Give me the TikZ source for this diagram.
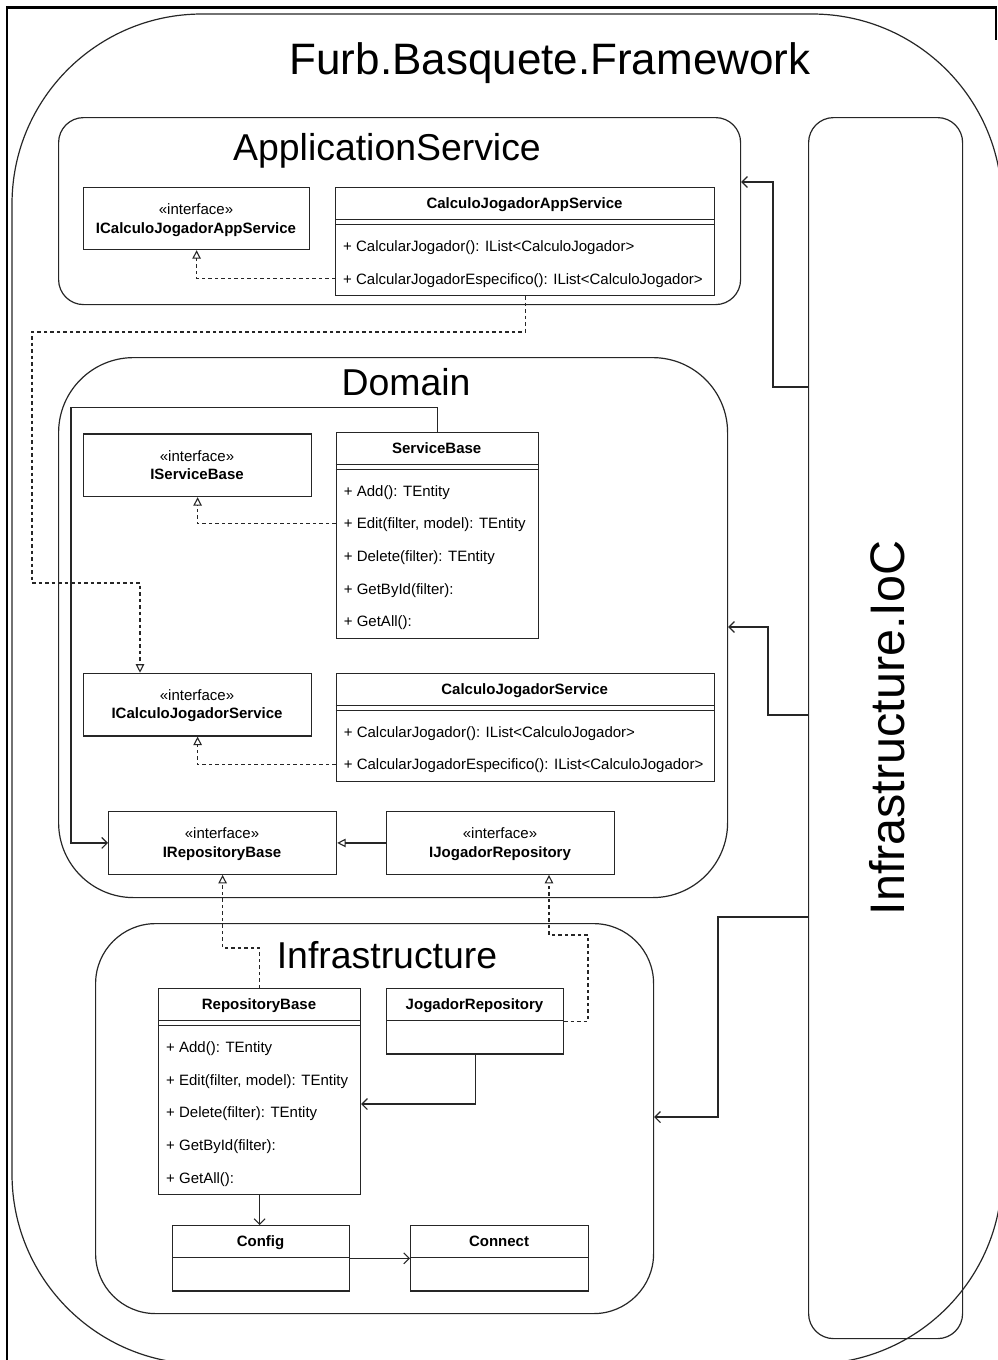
\documentclass[tikz,border=0pt]{standalone}
\usepackage{fontspec}
\setmainfont{Liberation Sans}
\usetikzlibrary{arrows.meta,calc}
\newcommand\sepline[2]{\draw[ln] ($(#1.north west)+(0,#2)$) -- ($(#1.north east)+(0,#2)$);}
\begin{document}
\begin{tikzpicture}[x=1pt,y=-1pt,
  ln/.style={line width=1.2pt, draw=black!85},
  box/.style={ln, rectangle, inner sep=0pt, anchor=north west, fill=white},
  cont/.style={ln, rectangle, rounded corners=#1, inner sep=0pt, anchor=north west},
  txt/.style={inner sep=0pt, text height=10.74pt, text depth=0pt, font=\fontsize{15}{18}\selectfont},
  bld/.style={txt, font=\fontsize{15}{18}\selectfont\bfseries},
  meth/.style={txt, anchor=west},
  ttl/.style={inner sep=0pt, text depth=0pt, text height=#1*0.716pt, font=\fontsize{#1}{#1}\selectfont},
  conn/.style={line width=1.1pt, draw=black!85},
  dep/.style={conn, dash pattern=on 3.5pt off 3pt},
  real/.style={dep, -{Triangle[open, length=8.5pt, width=8.5pt]}},
  gen/.style={conn, -{Triangle[open, length=8.5pt, width=8.5pt]}},
  arr/.style={conn, -{Straight Barb[length=5.5pt, width=11pt]}}]
\useasboundingbox (0,0) rectangle (998,1360);
% page frame
\draw[line width=2.6pt] (7,1362) -- (7,7.5) -- (996,7.5) -- (996,40);
% outer container
\draw[ln, rounded corners=190pt] (12,14) rectangle (1002,1364);
\node[ttl=44, anchor=center] (fw) at (550,58.5) {Furb.Basquete.Framework};
% containers
\node[cont=25pt, minimum width=682pt, minimum height=187pt] (app) at (58,117) {};
\node[ttl=37.4] (appT) at (387,147.6) {ApplicationService};
\node[cont=75pt, minimum width=669pt, minimum height=540pt] (dom) at (58,357) {};
\node[ttl=37.4] (domT) at (406,382.6) {Domain};
\node[cont=60pt, minimum width=558pt, minimum height=390pt] (inf) at (95,923) {};
\node[ttl=37.4] (infT) at (387,954.6) {Infrastructure};
\node[cont=25pt, minimum width=154pt, minimum height=1221pt] (ioc) at (808,117) {};
\node[ttl=48.5, rotate=90] (iocT) at (887.6,728) {Infrastructure.IoC};
% ApplicationService
\node[box, minimum width=226pt, minimum height=62pt] (ias) at (83,187) {};
\node[txt] (iasS) at (196,209.4) {«interface»};
\node[bld] (iasN) at (196,227.7) {ICalculoJogadorAppService};
\node[box, minimum width=379pt, minimum height=108pt] (cjas) at (335,187) {};
\node[bld] (cjasT) at (524.5,203.35) {CalculoJogadorAppService};
\sepline{cjas}{32.7}\sepline{cjas}{37.7}
\node[meth] (cjasA) at (343,246) {+ CalcularJogador(): IList<CalculoJogador>};
\node[meth] (cjasB) at (343,278.7) {+ CalcularJogadorEspecifico(): IList<CalculoJogador>};
% Domain
\node[box, minimum width=228pt, minimum height=62.7pt] (isb) at (83,433.3) {};
\node[txt] (isbS) at (197,455.7) {«interface»};
\node[bld] (isbN) at (197,474) {IServiceBase};
\node[box, minimum width=202pt, minimum height=206.2pt] (sb) at (335.7,431.7) {};
\node[bld] (sbT) at (436.7,448.05) {ServiceBase};
\sepline{sb}{32.7}\sepline{sb}{37.7}
\node[meth] (sbA) at (343.7,490.75) {+ Add(): TEntity};
\node[meth] (sbB) at (343.7,523.45) {+ Edit(filter, model): TEntity};
\node[meth] (sbC) at (343.7,556.15) {+ Delete(filter): TEntity};
\node[meth] (sbD) at (343.7,588.85) {+ GetById(filter):};
\node[meth] (sbE) at (343.7,621.55) {+ GetAll():};
\node[box, minimum width=228pt, minimum height=62.7pt] (icjs) at (83,672.7) {};
\node[txt] (icjsS) at (197,695.1) {«interface»};
\node[bld] (icjsN) at (197,713.4) {ICalculoJogadorService};
\node[box, minimum width=378pt, minimum height=108.1pt] (cjs) at (335.7,672.7) {};
\node[bld] (cjsT) at (524.7,689.05) {CalculoJogadorService};
\sepline{cjs}{32.7}\sepline{cjs}{37.7}
\node[meth] (cjsA) at (343.7,731.75) {+ CalcularJogador(): IList<CalculoJogador>};
\node[meth] (cjsB) at (343.7,764.45) {+ CalcularJogadorEspecifico(): IList<CalculoJogador>};
\node[box, minimum width=228pt, minimum height=62.7pt] (irb) at (108,811) {};
\node[txt] (irbS) at (222,833.4) {«interface»};
\node[bld] (irbN) at (222,851.7) {IRepositoryBase};
\node[box, minimum width=228pt, minimum height=62.7pt] (ijr) at (386,811) {};
\node[txt] (ijrS) at (500,833.4) {«interface»};
\node[bld] (ijrN) at (500,851.7) {IJogadorRepository};
% Infrastructure
\node[box, minimum width=202pt, minimum height=206.2pt] (rb) at (158,988) {};
\node[bld] (rbT) at (259,1004.35) {RepositoryBase};
\sepline{rb}{32.7}\sepline{rb}{37.7}
\node[meth] (rbA) at (166,1047.05) {+ Add(): TEntity};
\node[meth] (rbB) at (166,1079.75) {+ Edit(filter, model): TEntity};
\node[meth] (rbC) at (166,1112.45) {+ Delete(filter): TEntity};
\node[meth] (rbD) at (166,1145.15) {+ GetById(filter):};
\node[meth] (rbE) at (166,1177.85) {+ GetAll():};
\node[box, minimum width=177pt, minimum height=65.4pt] (jr) at (386,988) {};
\node[bld] (jrT) at (474.5,1004.35) {JogadorRepository};
\sepline{jr}{32.7}
\node[box, minimum width=177pt, minimum height=65.4pt] (config) at (172,1225) {};
\node[bld] (configT) at (260.5,1241.35) {Config};
\sepline{config}{32.7}
\node[box, minimum width=178pt, minimum height=65.4pt] (connect) at (410,1225) {};
\node[bld] (connectT) at (499,1241.35) {Connect};
\sepline{connect}{32.7}
% helper coordinates
\coordinate (d1) at (32,332);
\coordinate (d2) at (140,583);
\coordinate (icjsIn) at ($(icjs.north west)+(57,0)$);
\coordinate (s1) at (71,407.3);
\coordinate (r1) at (0,948);
\coordinate (j1) at (588,935);
\coordinate (ijrIn) at ($(ijr.south west)+(163,0)$);
\coordinate (a1) at (0,1104);
\coordinate (k1) at (773,387);
\coordinate (k2) at (0,182);
\coordinate (k3) at (768,715);
\coordinate (k4) at (0,627);
\coordinate (k5) at (718,917);
\coordinate (k6) at (0,1117);
% connectors
\draw[real] (cjas.west |- cjasB) -| (ias.south);
\draw[real] (cjas.south) |- (d1) |- (d2) -- (icjsIn);
\draw[arr] (sb.north) |- (s1) |- (irb.west);
\draw[real] (sb.west |- sbB) -| (isb.south);
\draw[real] (cjs.west |- cjsB) -| (icjs.south);
\draw[gen] (ijr.west) -- (irb.east);
\draw[real] (rb.north) |- (irb.south |- r1) -- (irb.south);
\draw[real] (jr.east) -| (j1) -| (ijrIn);
\draw[arr] (jr.south) |- (rb.east |- a1);
\draw[arr] (rb.south) -- (rb.south |- config.north);
\draw[arr] (config.east) -- (connect.west);
\draw[arr] (ioc.west |- k1) -- (k1) |- (app.east |- k2);
\draw[arr] (ioc.west |- k3) -- (k3) |- (dom.east |- k4);
\draw[arr] (ioc.west |- k5) -- (k5) |- (inf.east |- k6);
\end{tikzpicture}
\end{document}
